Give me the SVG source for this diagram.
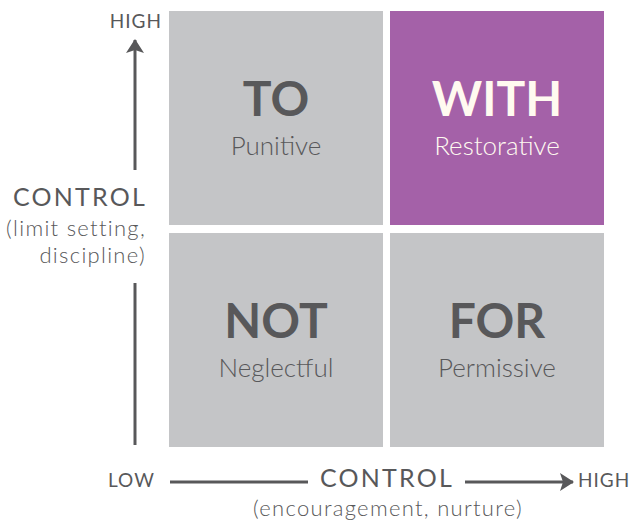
<svg xmlns="http://www.w3.org/2000/svg" width="642" height="522" viewBox="0 0 642 522">
  <style>
    .quad { fill: #c4c5c7; }
    .quad.hi { fill: #a461a8; }
    .title { font-family: Lato, "Open Sans", sans-serif; font-weight: 700; font-size: 48px; fill: #58585a; text-anchor: middle; }
    .sub { font-family: Lato, "Open Sans", sans-serif; font-weight: 300; font-size: 26px; fill: #58585a; text-anchor: middle; }
    .hi-text { fill: #fffaf0; }
    .axis { font-family: Lato, "Open Sans", sans-serif; font-weight: 400; fill: #58585a; }
    .tick { font-size: 19px; letter-spacing: 1px; }
    .axis-title { font-size: 25px; letter-spacing: 2.2px; }
    .axis-note { font-size: 22px; font-weight: 300; letter-spacing: 1.3px; }
    .line { stroke: #58585a; stroke-width: 3; fill: none; }
  </style>
  <defs>
    <marker id="arrow" viewBox="0 0 14 18" refX="13" refY="9" markerWidth="14" markerHeight="18" markerUnits="userSpaceOnUse" orient="auto">
      <path d="M0,0 L14,9 L0,18 L3,9 Z" fill="#58585a"/>
    </marker>
  </defs>
  <rect width="642" height="522" fill="#ffffff"/>

  <g id="quad-to">
    <rect class="quad" x="169" y="11" width="214" height="214"/>
    <text class="title" x="276" y="116">TO</text>
    <text class="sub" x="276" y="155">Punitive</text>
  </g>
  <g id="quad-with">
    <rect class="quad hi" x="390" y="11" width="214" height="214"/>
    <text class="title hi-text" x="497" y="116">WITH</text>
    <text class="sub hi-text" x="497" y="155">Restorative</text>
  </g>
  <g id="quad-not">
    <rect class="quad" x="169" y="233" width="214" height="214"/>
    <text class="title" x="276" y="338">NOT</text>
    <text class="sub" x="276" y="377">Neglectful</text>
  </g>
  <g id="quad-for">
    <rect class="quad" x="390" y="233" width="214" height="214"/>
    <text class="title" x="497" y="338">FOR</text>
    <text class="sub" x="497" y="377">Permissive</text>
  </g>

  <g id="connectors">
    <line class="line" x1="135" y1="170" x2="135" y2="40" marker-end="url(#arrow)"/>
    <line class="line" x1="135" y1="283" x2="135" y2="445"/>
    <line class="line" x1="170" y1="482" x2="308" y2="482"/>
    <line class="line" x1="465" y1="482" x2="573" y2="482" marker-end="url(#arrow)"/>
  </g>

  <g id="axis-vertical" class="axis">
    <text class="tick" x="162" y="28" text-anchor="end">HIGH</text>
    <text class="axis-title" x="147" y="206" text-anchor="end">CONTROL</text>
    <text class="axis-note" x="146" y="236" text-anchor="end">(limit setting,</text>
    <text class="axis-note" x="146" y="263" text-anchor="end">discipline)</text>
  </g>
  <g id="axis-horizontal" class="axis">
    <text class="tick" x="108" y="487">LOW</text>
    <text class="axis-title" x="387" y="487" text-anchor="middle">CONTROL</text>
    <text class="tick" x="578" y="487">HIGH</text>
    <text class="axis-note" x="388" y="516" text-anchor="middle">(encouragement, nurture)</text>
  </g>
</svg>
